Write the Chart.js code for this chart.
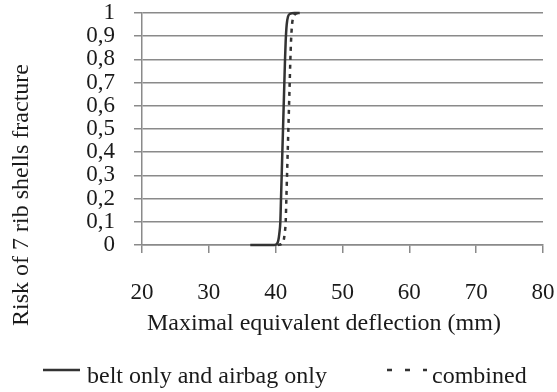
<!DOCTYPE html>
<html>
<head>
<meta charset="utf-8">
<script src="https://cdn.jsdelivr.net/npm/chart.js@4/dist/chart.umd.min.js"></script>
<style>
  html, body { margin: 0; padding: 0; background: #fff; }
  #wrap { width: 557px; height: 392px; position: relative; }
</style>
</head>
<body>
<div id="wrap"><canvas id="c" width="557" height="392"></canvas></div>
<script>
// ---- data ----
const seriesNames = ["belt only and airbag only", "combined"];
const solidX = [36.2, 38, 39.8, 40.2, 40.4, 40.55, 40.7, 40.8, 40.9, 41.0, 41.1, 41.2, 41.3, 41.4, 41.5, 41.65, 41.85, 42.2, 42.8, 43.6];
const solidY = [0, 0, 0, 0.005, 0.02, 0.05, 0.1, 0.2, 0.3, 0.4, 0.5, 0.6, 0.7, 0.8, 0.88, 0.95, 0.985, 0.997, 1, 1];
const dashX = [40.3, 40.9, 41.2, 41.35, 41.5, 41.6, 41.7, 41.8, 41.9, 42.0, 42.1, 42.2, 42.3, 42.45, 42.7, 43.1, 43.6];
const dashY = [0, 0.005, 0.02, 0.05, 0.1, 0.2, 0.3, 0.4, 0.5, 0.6, 0.7, 0.8, 0.88, 0.95, 0.985, 0.998, 1];
const xTicks = [20, 30, 40, 50, 60, 70, 80];
const yTicks = [0, 0.1, 0.2, 0.3, 0.4, 0.5, 0.6, 0.7, 0.8, 0.9, 1];
const xTitle = "Maximal equivalent deflection (mm)";
const yTitle = "Risk of 7 rib shells fracture";

const FONT = '"Liberation Serif", "Times New Roman", serif';
const LINE_COLOR = '#333333';
const GRID_COLOR = '#8a8a8a';
const TEXT_COLOR = '#1a1a1a';

const toPts = (xs, ys) => xs.map((x, i) => ({ x: x, y: ys[i] }));

const fmtY = v => {
  const r = Math.round(v * 10) / 10;
  return (r === 0 || r === 1) ? String(r) : r.toFixed(1).replace('.', ',');
};

const decorPlugin = {
  id: 'decor',
  afterDraw(chart) {
    const ctx = chart.ctx;
    ctx.save();
    ctx.fillStyle = TEXT_COLOR;
    ctx.font = '24px ' + FONT;
    // x title
    ctx.textAlign = 'left';
    ctx.textBaseline = 'alphabetic';
    ctx.fillText(xTitle, 147, 330);
    // y title
    ctx.save();
    ctx.translate(28, 195);
    ctx.rotate(-Math.PI / 2);
    ctx.textAlign = 'center';
    ctx.fillText(yTitle, 0, 0);
    ctx.restore();
    // legend
    ctx.strokeStyle = LINE_COLOR;
    ctx.lineWidth = 2.5;
    ctx.beginPath();
    ctx.moveTo(43, 370); ctx.lineTo(80, 370);
    ctx.stroke();
    ctx.fillText(seriesNames[0], 87, 383);
    ctx.setLineDash([5, 13]);
    ctx.beginPath();
    ctx.moveTo(387, 370); ctx.lineTo(427, 370);
    ctx.stroke();
    ctx.setLineDash([]);
    ctx.fillText(seriesNames[1], 432, 383);
    ctx.restore();
  }
};

new Chart(document.getElementById('c'), {
  type: 'scatter',
  data: {
    datasets: [
      {
        label: seriesNames[0],
        data: toPts(solidX, solidY),
        showLine: true,
        borderColor: LINE_COLOR,
        backgroundColor: LINE_COLOR,
        borderWidth: 2.5,
        pointRadius: 0,
        cubicInterpolationMode: 'monotone',
        clip: 6
      },
      {
        label: seriesNames[1],
        data: toPts(dashX, dashY),
        showLine: true,
        borderColor: LINE_COLOR,
        backgroundColor: LINE_COLOR,
        borderWidth: 2.5,
        borderDash: [4, 5],
        pointRadius: 0,
        cubicInterpolationMode: 'monotone',
        clip: 6
      }
    ]
  },
  options: {
    responsive: false,
    animation: false,
    devicePixelRatio: 1,
    layout: { padding: { left: 0, right: 14, top: 13, bottom: 0 } },
    plugins: { legend: { display: false }, tooltip: { enabled: false } },
    scales: {
      x: {
        type: 'linear',
        min: xTicks[0],
        max: xTicks[xTicks.length - 1],
        afterBuildTicks: s => { s.ticks = xTicks.map(v => ({ value: v })); },
        afterFit: s => { s.height = 147; s.paddingLeft = 0; s.paddingRight = 0; },
        border: { display: true, color: GRID_COLOR, width: 1.5 },
        grid: { drawOnChartArea: false, drawTicks: true, tickLength: 8, color: GRID_COLOR, lineWidth: 1.5 },
        ticks: { color: TEXT_COLOR, font: { family: FONT, size: 23, lineHeight: 1 }, padding: 28, maxRotation: 0, autoSkip: false }
      },
      y: {
        type: 'linear',
        min: 0,
        max: 1,
        afterBuildTicks: s => { s.ticks = yTicks.map(v => ({ value: v })); },
        afterFit: s => { s.width = 142; s.paddingTop = 0; s.paddingBottom = 0; },
        border: { display: true, color: GRID_COLOR, width: 1.5 },
        grid: { drawOnChartArea: true, drawTicks: true, tickLength: 8, color: GRID_COLOR, lineWidth: 1.5 },
        ticks: { color: TEXT_COLOR, font: { family: FONT, size: 23, lineHeight: 1 }, padding: 19, autoSkip: false, callback: v => fmtY(v) }
      }
    }
  },
  plugins: [decorPlugin]
});
</script>
</body>
</html>
